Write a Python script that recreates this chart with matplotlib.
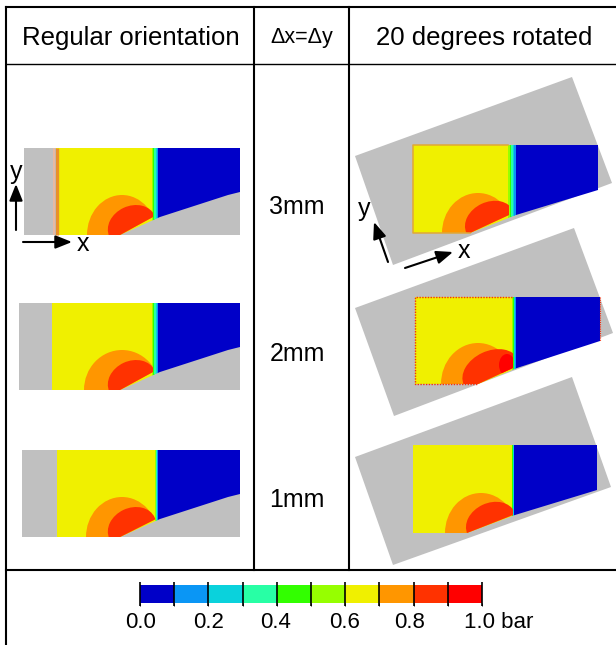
import matplotlib
matplotlib.use("Agg")
import matplotlib.pyplot as plt
from matplotlib.cm import ScalarMappable
from matplotlib.colors import BoundaryNorm, ListedColormap
from matplotlib.patches import Ellipse, Polygon, Rectangle

plt.rcParams["font.family"] = ["Liberation Sans", "DejaVu Sans"]

W, H = 616, 645
GRAY = "#c0c0c0"

levels = [0.0, 0.1, 0.2, 0.3, 0.4, 0.5, 0.6, 0.7, 0.8, 0.9, 1.0]
level_colors = ["#0000c8", "#0a96f5", "#0ad2dc", "#28ffa5", "#32ff00",
                "#96ff00", "#f0f000", "#ff9600", "#ff3200", "#ff0000"]
bar_labels = ["0.0", "0.2", "0.4", "0.6", "0.8", "1.0 bar"]
bar_label_x = [141, 209, 276, 345, 410, 499]

headers = ["Regular orientation", "\u0394x=\u0394y", "20 degrees rotated"]
spacings = ["3mm", "2mm", "1mm"]
spacing_y = [207, 354, 500]

# gray domain outlines, picture pixels
gray_left = [
    [(24, 148), (240, 148), (240, 235), (24, 235)],
    [(19, 303), (240, 303), (240, 390), (19, 390)],
    [(22, 450), (240, 450), (240, 537), (22, 537)],
]
gray_rot = [
    [(355, 156), (572, 77), (612, 183), (393, 265)],
    [(355, 308), (574, 228), (613, 333), (394, 416)],
    [(355, 457), (572, 377), (611, 487), (393, 565)],
]

# wet part outlines
wet_left = [
    [(56, 148), (240, 148), (240, 192), (228, 195), (160, 217), (120, 235), (56, 235)],
    [(52, 303), (240, 303), (240, 347), (228, 350), (160, 372), (120, 390), (52, 390)],
    [(57, 450), (240, 450), (240, 494), (228, 497), (160, 519), (120, 537), (57, 537)],
]
wet_rot = [
    [(413, 145), (598, 145), (598, 190), (516, 215), (470, 233), (413, 233)],
    [(415, 297), (600, 297), (600, 341), (517, 368), (478, 384), (415, 384)],
    [(413, 445), (597, 445), (597, 490), (515, 515), (467, 533), (413, 533)],
]

# x of the jump: yellow ends, blue starts
jump_left = [(152, 158), (152, 158), (155, 158)]
jump_rot = [(508, 516), (512, 516), (512, 514)]

# orange and red zones: centre x, centre y, width, height, angle
orange_left = [(122, 235, 70, 80, 0), (122, 390, 76, 80, 0), (122, 537, 72, 80, 0)]
red_left = [(132, 226, 50, 40, -25), (132, 381, 50, 40, -25), (132, 528, 50, 40, -25)]
orange_rot = [(478, 233, 72, 80, 0), (478, 384, 74, 82, 0), (481, 533, 72, 80, 0)]
red_rot = [(490, 222, 52, 40, -25), (491, 372, 60, 42, -25), (491, 523, 52, 40, -25)]
# small core of the top level in the 2mm rotated case
core_rot = (507, 365, 16, 22, 0)

arrows = [((16, 230), (16, 184)), ((23, 242), (72, 242)),
          ((388, 262), (374, 222)), ((405, 268), (453, 252))]
arrow_text = [("y", 16, 172), ("x", 83, 244), ("y", 364, 209), ("x", 464, 251)]

# table rules
col_lines = [254, 349]
header_y = 64
footer_y = 570


def add_zone(ax, zone, color, wet, x_stop, zorder):
    e = Ellipse(zone[:2], zone[2], zone[3], angle=zone[4], fc=color, ec="none", zorder=zorder)
    ax.add_patch(e)
    # the zones stop at the band
    cut = Polygon([q if q[0] <= x_stop else (x_stop + 1, q[1]) for q in wet],
                  fc="none", ec="none", transform=ax.transData)
    e.set_clip_path(cut)


def draw_field(ax, gray, wet, jump, orange, red, zorder=2):
    ax.add_patch(Polygon(gray, fc=GRAY, ec="none", zorder=zorder))
    clip = Polygon(wet, fc="none", ec="none", transform=ax.transData)
    ax.add_patch(clip)
    top = min(p[1] for p in wet)
    bottom = max(p[1] for p in wet)
    left = min(p[0] for p in wet)
    right = max(p[0] for p in wet)
    x0, x1 = jump
    rects = [
        Rectangle((left, top), x0 - left, bottom - top, fc=level_colors[6], ec="none"),
        Rectangle((x1, top), right - x1, bottom - top, fc=level_colors[0], ec="none"),
    ]
    # steep band between yellow and blue
    step = (x1 - x0) / 5
    for i, c in enumerate(["#96ff00", "#32ff00", "#28ffa5", "#0ad2dc", "#0a96f5"]):
        rects.append(Rectangle((x0 + i * step, top), step + 0.3, bottom - top, fc=c, ec="none"))
    for p in rects:
        p.set_zorder(zorder + 1)
        ax.add_patch(p)
        p.set_clip_path(clip)
    add_zone(ax, orange, level_colors[7], wet, x0, zorder + 2)
    add_zone(ax, red, level_colors[8], wet, x0, zorder + 3)


def main():
    fig = plt.figure(figsize=(W / 100, H / 100), dpi=100)
    ax = fig.add_axes([0, 0, 1, 1])
    ax.set_xlim(0, W)
    ax.set_ylim(H, 0)
    ax.axis("off")

    for i in range(3):
        draw_field(ax, gray_left[i], wet_left[i], jump_left[i], orange_left[i], red_left[i])
        draw_field(ax, gray_rot[i], wet_rot[i], jump_rot[i], orange_rot[i], red_rot[i])
        ax.text(297, spacing_y[i], spacings[i], fontsize=18, ha="center", va="center")
    add_zone(ax, core_rot, level_colors[9], wet_rot[1], jump_rot[1][0], 6)

    # thin brown/orange rim on the coarse cases
    ax.plot([57, 57], [148, 235], color="#e8902a", lw=2.4, zorder=7, solid_capstyle="butt")
    ax.plot([54, 54], [148, 235], color="#f0b8a0", lw=1.2, zorder=7, solid_capstyle="butt")
    rim = [(508, 145), (413, 145), (413, 233), (470, 233)]
    ax.plot(*zip(*rim), color="#e0a838", lw=1.1, zorder=7)
    rim2 = [(512, 297), (415, 297), (415, 384), (478, 384)]
    ax.plot(*zip(*rim2), color="#f03010", lw=1.0, ls=(0, (1, 1)), zorder=7)
    ax.plot([600, 600], [297, 341], color="#f03010", lw=0.8, ls=(0, (1, 1)), zorder=7)

    for (start, end) in arrows:
        ax.annotate("", xy=end, xytext=start, zorder=8,
                    arrowprops=dict(arrowstyle="-|>,head_length=1.0,head_width=0.4",
                                    color="black", lw=1.5, shrinkA=0, shrinkB=0))
    for s, x, y in arrow_text:
        ax.text(x, y, s, fontsize=18, ha="center", va="center", zorder=8)

    # header
    ax.text(130.5, 38, headers[0], fontsize=18.5, ha="center", va="center")
    ax.text(302, 38, headers[1], fontsize=15.5, ha="center", va="center")
    ax.text(484, 38, headers[2], fontsize=18.5, ha="center", va="center")

    # table rules
    ax.plot([6, W], [7, 7], color="black", lw=1.5, zorder=9)
    ax.plot([6, 6], [7, H], color="black", lw=1.5, zorder=9)
    ax.plot([6, W], [header_y, header_y], color="black", lw=1.0, zorder=9)
    ax.plot([6, W], [footer_y, footer_y], color="black", lw=1.5, zorder=9)
    for x in col_lines:
        ax.plot([x, x], [7, footer_y], color="black", lw=1.5, zorder=9)

    # colour bar
    cax = fig.add_axes([140 / W, 1 - 603 / H, 342 / W, 18 / H])
    cmap = ListedColormap(level_colors)
    norm = BoundaryNorm(levels, cmap.N)
    cb = fig.colorbar(ScalarMappable(norm=norm, cmap=cmap), cax=cax,
                      orientation="horizontal", ticks=[], spacing="uniform")
    cb.outline.set_visible(False)
    cax.vlines(levels, -0.17, 1.17, color="black", lw=1.2,
               transform=cax.get_xaxis_transform(), clip_on=False)
    for s, x in zip(bar_labels, bar_label_x):
        ax.text(x, 623, s, fontsize=16, ha="center", va="center")

    fig.savefig("out.png", dpi=100)


if __name__ == "__main__":
    main()
